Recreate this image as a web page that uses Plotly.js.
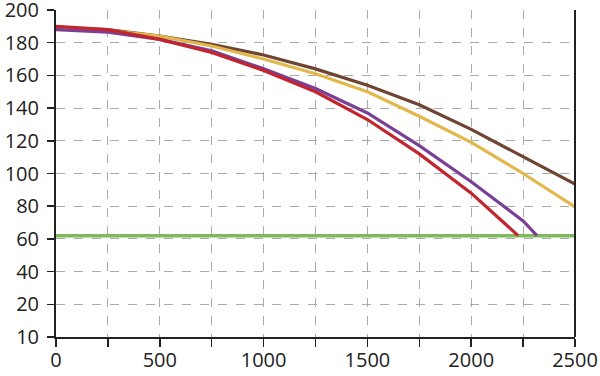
<!DOCTYPE html>
<html><head><meta charset="utf-8">
<script src="https://cdn.plot.ly/plotly-3.0.1.min.js"></script>
<style>html,body{margin:0;padding:0;background:#fff}#chart{width:600px;height:376px}</style>
</head><body><div id="chart"></div>
<script>
const xBase = [0,250,500,750,1000,1250,1500,1750,2000,2250,2500];
const brownY = [189,188,184,179,172.5,164,154,142,127,110,93.5];
const yellowY = [189,187.5,184,178,170,161,150,135,119,100,79.5];
const purpleX = [0,250,500,750,1000,1250,1500,1750,2000,2250,2317];
const purpleY = [188,186.5,182,175,164,152,137,117,95,71,62];
const redX = [0,250,500,750,1000,1250,1500,1750,2000,2226];
const redY = [190,188,182,174,163,150,133,112,88,62];
const greenX = [0,2500];
const greenY = [62,62];
const xTickVals = [0,250,500,750,1000,1250,1500,1750,2000,2250,2500];
const xTickText = ['0','','500','','1000','','1500','','2000','','2500'];
const yTickVals = [0,20,40,60,80,100,120,140,160,180,200];
const yTickText = ['10','20','40','60','80','100','120','140','160','180','200'];

const traces = [
  {x:greenX,y:greenY,mode:'lines',line:{color:'#7dbb5a',width:3.5}},
  {x:xBase,y:brownY,mode:'lines',line:{color:'#6e4532',width:3.2}},
  {x:xBase,y:yellowY,mode:'lines',line:{color:'#e2b74c',width:3.2}},
  {x:purpleX,y:purpleY,mode:'lines',line:{color:'#7a3f96',width:3.2}},
  {x:redX,y:redY,mode:'lines',line:{color:'#c1262e',width:3.2}}
];
const layout = {
  width:600,height:376,
  margin:{l:56,r:25,t:10,b:39},
  showlegend:false,
  paper_bgcolor:'#fff',plot_bgcolor:'#fff',
  font:{family:'Open Sans, sans-serif',size:20,color:'#222'},
  xaxis:{range:[0,2500],tickvals:xTickVals,ticktext:xTickText,ticks:'outside',ticklen:8,tickwidth:1.5,tickcolor:'#222',
    ticklabeloverflow:'allow',ticklabelstandoff:-4,
    showline:true,linecolor:'#222',linewidth:2,mirror:false,
    showgrid:true,gridcolor:'#aaa',griddash:'dash',gridwidth:1,zeroline:false},
  yaxis:{range:[0,200],tickvals:yTickVals,ticktext:yTickText,ticks:'outside',ticklen:7,tickwidth:1.5,tickcolor:'#222',
    ticklabeloverflow:'allow',ticklabelstandoff:4,
    showline:true,linecolor:'#222',linewidth:2,
    showgrid:true,gridcolor:'#aaa',griddash:'dash',gridwidth:1,zeroline:false},
  shapes:[{type:'line',xref:'paper',yref:'paper',x0:1,x1:1,y0:0,y1:1,line:{color:'#222',width:2}}]
};
Plotly.newPlot('chart',traces,layout,{displayModeBar:false,staticPlot:true});
</script></body></html>
